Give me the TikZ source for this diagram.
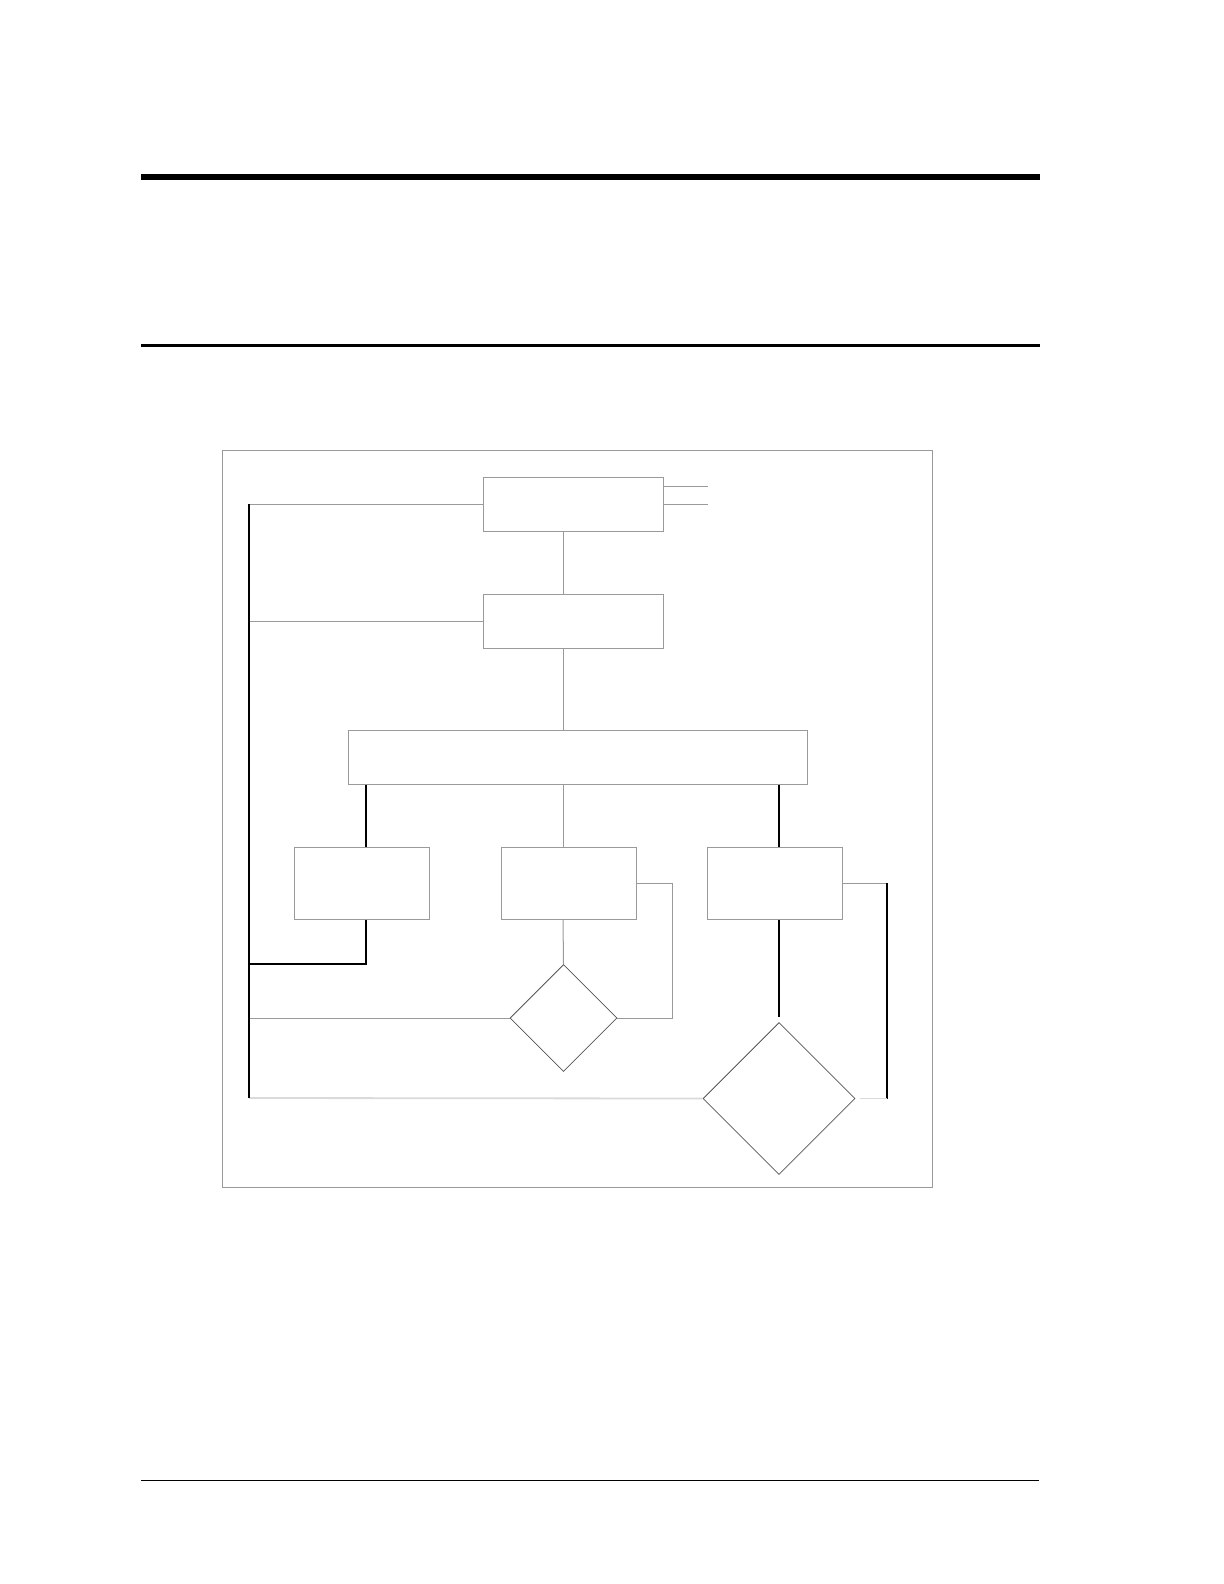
\documentclass[tikz,border=0pt]{standalone}
\usetikzlibrary{shapes.geometric}
\definecolor{boxgray}{HTML}{9A9A9A}
\definecolor{lightgray2}{HTML}{DADADA}
\definecolor{diagray}{HTML}{555555}
\tikzset{
  every picture/.style={x=0.5pt,y=-0.5pt},
  boxnode/.style={draw=boxgray,line width=0.5pt,rectangle,inner sep=0pt,minimum height=27pt},
  smallbox/.style={boxnode,minimum width=67.5pt,minimum height=36pt},
  dia/.style={draw=diagray,line width=0.4pt,diamond,inner sep=0pt},
  gline/.style={draw=boxgray,line width=0.5pt},
  bline/.style={draw=black,line width=0.55pt},
  lline/.style={draw=lightgray2,line width=0.9pt}
}
\begin{document}
\begin{tikzpicture}
\useasboundingbox (0,0) rectangle (1224,1584);
\fill[white] (0,0) rectangle (1224,1584);
% page rules
\fill[black] (141,174) rectangle (1040,180);
\fill[black] (141,343.5) rectangle (1040,347);
\fill[black] (141,1479.7) rectangle (1039,1481);
% frame
\draw[boxgray,line width=0.5pt] (222.7,450) rectangle (932,1187);
% nodes
\node[boxnode,minimum width=90pt] (b1) at (573,504) {};
\node[boxnode,minimum width=90pt] (b2) at (573,621) {};
\node[boxnode,minimum width=229.5pt] (big) at (577.5,757) {};
\node[smallbox] (bl) at (361.5,883) {};
\node[smallbox] (bm) at (568.5,883) {};
\node[smallbox] (br) at (774.5,883) {};
\node[dia,minimum width=53.5pt,minimum height=53.5pt] (d1) at (563.5,1018) {};
\node[dia,minimum width=76pt,minimum height=76pt] (d2) at (779,1098.5) {};
% helper coordinates
\coordinate (cx) at (563,0);
\coordinate (lx) at (366,0);
\coordinate (rx) at (779,0);
\coordinate (s1a) at (708,486);
\coordinate (s1b) at (708,504);
\coordinate (l1) at (249,504);
\coordinate (l2) at (249,621);
\coordinate (l3) at (249,964);
\coordinate (l4) at (249,1018);
\coordinate (l5) at (249,1098);
\coordinate (m1) at (366,964);
\coordinate (mr) at (672,883);
\coordinate (mr2) at (672,1018);
\coordinate (rr) at (887,883);
\coordinate (rr2) at (887,1098.5);
\coordinate (rr3) at (860,1098.5);
\coordinate (rend) at (779,1017);
% connectors
\draw[gline] (b1.east |- s1a) -- (s1a);
\draw[gline] (b1.east |- s1b) -- (s1b);
\draw[gline] (b1.west) -- (l1);
\draw[gline] (b2.west) -- (l2);
\draw[gline] (b1.south -| cx) -- (b2.north -| cx);
\draw[gline] (b2.south -| cx) -- (big.north -| cx);
\draw[bline] (big.south -| lx) -- (bl.north -| lx);
\draw[gline] (big.south -| cx) -- (bm.north -| cx);
\draw[bline] (big.south -| rx) -- (br.north -| rx);
\draw[bline] (bl.south -| lx) -- (m1) -- (l3);
\draw[gline] (bm.south -| cx) -- (d1.north);
\draw[gline] (bm.east) -- (mr) -- (mr2) -- (d1.east);
\draw[gline] (d1.west) -- (l4);
\draw[bline] (br.south -| rx) -- (rend);
\draw[gline] (br.east) -- (rr);
\draw[bline] (rr) -- (rr2);
\draw[lline] (rr2) -- (rr3);
\draw[lline] (d2.west) -- (l5);
\draw[bline] (l1) -- (l5);
\end{tikzpicture}
\end{document}
